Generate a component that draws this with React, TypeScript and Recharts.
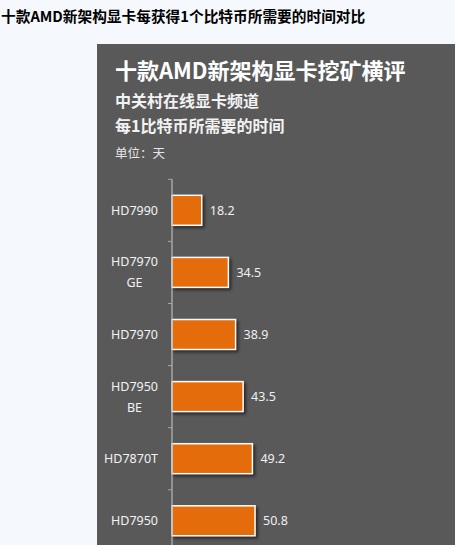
import React from 'react';
import { BarChart, Bar, XAxis, YAxis, CartesianGrid, LabelList } from 'recharts';

// visible part of the ranking (days needed to mine 1 BTC)
const cards = ['HD7990', 'HD7970\nGE', 'HD7970', 'HD7950\nBE', 'HD7870T', 'HD7950'];
const days = [18.2, 34.5, 38.9, 43.5, 49.2, 50.8];
const dayTicks = [0, 50, 100, 150, 200];

const pageTitle = '十款AMD新架构显卡每获得1个比特币所需要的时间对比';
const panelTitle = '十款AMD新架构显卡挖矿横评';
const subTitle1 = '中关村在线显卡频道';
const subTitle2 = '每1比特币所需要的时间';
const unitText = '单位：天';

const chartData = cards.map((name, i) => ({ name, days: days[i] }));

const CHART_W = 402;
const CHART_H = 545;
const MARGIN_TOP = 135.3;
const PLOT_H = 372.6;
const X_AXIS_H = 30;
const BAND = PLOT_H / cards.length;
const LABEL_FONT = '12.5px "Noto Sans"';

let measureCtx: CanvasRenderingContext2D | null = null;
const textWidth = (s: string) => {
  if (!measureCtx) measureCtx = document.createElement('canvas').getContext('2d');
  if (!measureCtx) return s.length * 7.5;
  measureCtx.font = LABEL_FONT;
  return measureCtx.measureText(s).width;
};

const CardTick = (props: any) => {
  const { x, y, payload } = props;
  const lines = String(payload.value).split('\n');
  const end = x - 14;
  const top = y - BAND / 2;
  const textStyle = { fontFamily: '"Noto Sans", sans-serif', fontSize: 12.5, fill: '#f2f2f2' };
  return (
    <g>
      <line x1={x - 4} x2={x} y1={top} y2={top} stroke="#a6a6a6" />
      {lines.length === 1 ? (
        <text x={end} y={y} textAnchor="end" dominantBaseline="central" style={textStyle}>
          {lines[0]}
        </text>
      ) : (
        lines.map((ln, i) => (
          <text
            key={i}
            x={end - textWidth(lines[0]) / 2}
            y={y + (i - (lines.length - 1) / 2) * 21}
            textAnchor="middle"
            dominantBaseline="central"
            style={textStyle}
          >
            {ln}
          </text>
        ))
      )}
    </g>
  );
};

const ShadowBar = (props: any) => {
  const { x, y, width, height } = props;
  return (
    <rect
      x={x}
      y={y}
      width={width}
      height={height}
      fill="#e46c0a"
      stroke="#ffffff"
      strokeWidth={1.5}
      style={{ filter: 'drop-shadow(2px 2px 1.5px rgba(0,0,0,0.55))' }}
    />
  );
};

const cjk = '"Noto Sans CJK SC", "Noto Sans", sans-serif';

const App: React.FC = () => {
  return (
    <div
      style={{
        position: 'fixed',
        left: 0,
        top: 0,
        width: 455,
        height: 545,
        overflow: 'hidden',
        background: '#f5f8fc',
        fontFamily: cjk,
      }}
    >
      <div
        style={{
          position: 'absolute',
          left: 1,
          top: 7,
          fontSize: 14.7,
          lineHeight: '17px',
          fontWeight: 700,
          color: '#000',
          whiteSpace: 'nowrap',
        }}
      >
        {pageTitle}
      </div>

      <div
        style={{
          position: 'absolute',
          left: 97,
          top: 44,
          width: 420,
          height: 560,
          background: '#595959',
        }}
      >
        <div style={{ position: 'absolute', left: 18, top: 14, fontSize: 22, lineHeight: '22px', fontWeight: 700, color: '#fff', whiteSpace: 'nowrap' }}>
          {panelTitle}
        </div>
        <div style={{ position: 'absolute', left: 18, top: 47.5, fontSize: 16, lineHeight: '16px', fontWeight: 700, color: '#f2f2f2', whiteSpace: 'nowrap' }}>
          {subTitle1}
        </div>
        <div style={{ position: 'absolute', left: 18, top: 72.5, fontSize: 16, lineHeight: '16px', fontWeight: 700, color: '#f2f2f2', whiteSpace: 'nowrap' }}>
          {subTitle2}
        </div>
        <div style={{ position: 'absolute', left: 18, top: 102, fontSize: 12.5, lineHeight: '13px', color: '#e6e6e6', whiteSpace: 'nowrap' }}>
          {unitText}
        </div>

        <div style={{ position: 'absolute', left: 0, top: 0 }}>
          <BarChart
            width={CHART_W}
            height={CHART_H}
            data={chartData}
            layout="vertical"
            margin={{ top: MARGIN_TOP, right: 0, left: 0, bottom: CHART_H - MARGIN_TOP - PLOT_H - X_AXIS_H }}
          >
            <CartesianGrid horizontal={false} stroke="#a6a6a6" />
            {/* the value axis sits below the visible crop, so no tick text */}
            <XAxis
              type="number"
              domain={[0, 200]}
              ticks={dayTicks}
              height={X_AXIS_H}
              stroke="#a6a6a6"
              tick={false}
            />
            <YAxis
              type="category"
              dataKey="name"
              width={75}
              stroke="#a6a6a6"
              tickLine={false}
              tickSize={0}
              tickMargin={0}
              tick={<CardTick />}
              interval={0}
            />
            <Bar dataKey="days" barSize={30} shape={<ShadowBar />} isAnimationActive={false}>
              <LabelList
                dataKey="days"
                position="right"
                offset={8}
                fill="#f0f0f0"
                fontSize={12.5}
                fontFamily='"Noto Sans", sans-serif'
              />
            </Bar>
          </BarChart>
        </div>
      </div>
    </div>
  );
};

export default App;
